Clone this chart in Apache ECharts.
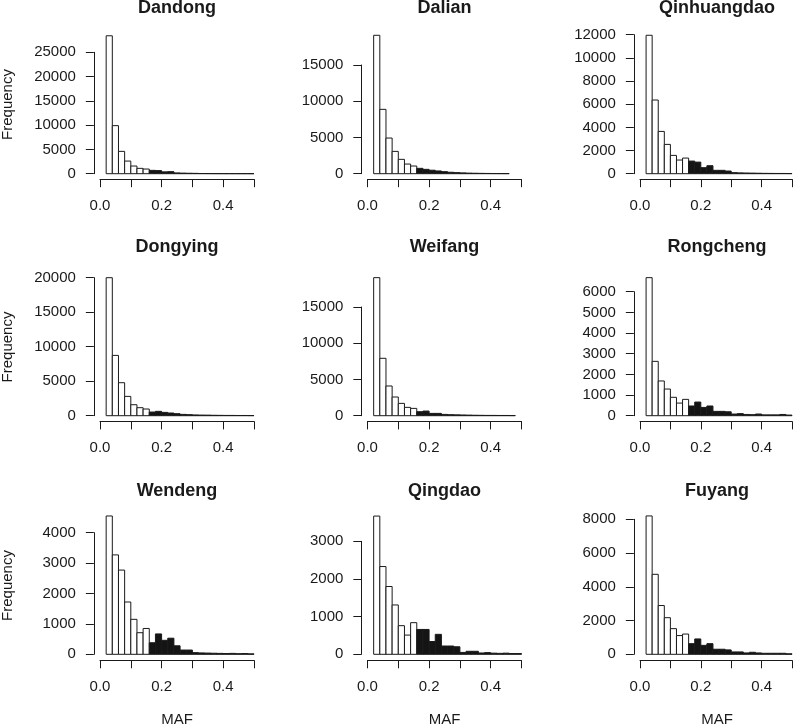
<!DOCTYPE html>
<html>
<head>
<meta charset="utf-8">
<script src="https://cdn.jsdelivr.net/npm/echarts@6/dist/echarts.min.js"></script>
<style>
  html, body { margin: 0; padding: 0; background: #fff; }
  #chart { width: 795px; height: 727px; }
</style>
</head>
<body>
<div id="chart"></div>
<script>
// ---------------- DATA ----------------
const cities = ['Dandong', 'Dalian', 'Qinhuangdao', 'Dongying', 'Weifang', 'Rongcheng', 'Wendeng', 'Qingdao', 'Fuyang'];
const binStart = 0.02;
const binWidth = 0.02;
const darkFrom = 0.16; // bins at or above this MAF are filled dark

const dandong     = [28400, 9900, 4600, 2600, 1580, 1100, 960, 690, 640, 380, 420, 160, 120, 90, 70, 40, 30, 25, 20, 15, 15, 10, 10, 8];
const dalian      = [19100, 8880, 4920, 3080, 1980, 1330, 1060, 740, 600, 480, 380, 280, 200, 150, 110, 80, 60, 45, 35, 25, 20, 15];
const qinhuangdao = [11950, 6360, 3650, 2530, 1580, 1180, 1350, 1090, 1000, 520, 690, 290, 290, 230, 90, 70, 60, 50, 40, 30, 25, 20, 20, 15];
const dongying    = [20000, 8740, 4780, 2800, 1590, 1160, 970, 530, 630, 480, 390, 290, 190, 150, 110, 90, 80, 60, 50, 40, 40, 30, 30, 20];
const weifang     = [19050, 7920, 4100, 2580, 1700, 1150, 1010, 550, 640, 320, 320, 180, 140, 120, 100, 80, 60, 50, 40, 40, 30, 30, 20];
const rongcheng   = [6680, 2630, 1680, 1290, 890, 610, 790, 470, 660, 400, 470, 210, 210, 190, 80, 100, 60, 50, 80, 40, 40, 40, 60, 30];
const wendeng     = [4550, 3270, 2770, 1720, 1150, 710, 850, 380, 670, 460, 530, 280, 140, 140, 55, 45, 40, 35, 30, 25, 30, 20, 25, 15];
const qingdao     = [3670, 2330, 1800, 1310, 760, 510, 840, 660, 660, 340, 530, 220, 220, 200, 50, 80, 80, 35, 45, 30, 25, 30, 20, 20];
const fuyang      = [8200, 4740, 2890, 2170, 1520, 1110, 1200, 630, 910, 530, 630, 300, 300, 260, 140, 140, 80, 120, 80, 60, 60, 60, 60, 30];
const counts = [dandong, dalian, qinhuangdao, dongying, weifang, rongcheng, wendeng, qingdao, fuyang];

// y-axis tick settings (max tick value, interval)
const yMaxTicks = [25000, 15000, 12000, 20000, 15000, 6000, 4000, 3000, 8000];
const yIntervals = [5000, 5000, 2000, 5000, 5000, 1000, 1000, 1000, 2000];
const xTickLabels = ['0.0', '0.2', '0.4'];
const xLabel = 'MAF';
const yLabel = 'Frequency';

// ---------------- LAYOUT ----------------
const colX0 = [100, 367.5, 640];           // pixel of MAF = 0
const pxPerUnit = 308;                      // pixels per 1.0 MAF
const rowY0 = [173.7, 415.7, 654.3];        // pixel of count = 0
const rowAxisY = [179.2, 421.4, 660.3];     // x-axis line
const yTopPx = [52.3, 65.0, 34.7, 277.7, 307.0, 291.7, 532.7, 541.3, 519.3]; // pixel of max tick
const titleY = [8, 247.5, 491.5];
const regionMid = [104.5, 347, 585.5];

const FONT = '"Liberation Sans", Arial, Helvetica, sans-serif';
const INK = '#1a1a1a';

const grids = [], xAxes = [], yAxes = [], series = [], graphics = [];

cities.forEach((name, i) => {
  const r = Math.floor(i / 3), c = i % 3;
  const x0 = colX0[c];
  const y0 = rowY0[r];
  grids.push({ left: x0, top: yTopPx[i], width: 0.5 * pxPerUnit, height: y0 - yTopPx[i], containLabel: false });
  xAxes.push({
    gridIndex: i, type: 'value', min: 0, max: 0.5, interval: 0.1,
    offset: rowAxisY[r] - y0,
    axisLine: { show: true, onZero: false, lineStyle: { color: INK, width: 1 } },
    axisTick: { show: true, inside: false, length: 8, lineStyle: { color: INK, width: 1 } },
    axisLabel: {
      show: true, margin: 19, fontSize: 15, fontFamily: FONT, color: INK,
      formatter: v => {
        const s = v.toFixed(1);
        return xTickLabels.indexOf(s) >= 0 ? s : '';
      }
    },
    splitLine: { show: false }
  });
  yAxes.push({
    gridIndex: i, type: 'value', min: 0, max: yMaxTicks[i], interval: yIntervals[i],
    offset: 0.02 * pxPerUnit,
    axisLine: { show: true, onZero: false, lineStyle: { color: INK, width: 1 } },
    axisTick: { show: true, inside: false, length: 8, lineStyle: { color: INK, width: 1 } },
    axisLabel: { show: true, margin: 18, fontSize: 15, fontFamily: FONT, color: INK, formatter: v => String(Math.round(v)) },
    splitLine: { show: false }
  });
  const data = counts[i].map((v, k) => {
    const s = +(binStart + k * binWidth).toFixed(2);
    return [s, +(s + binWidth).toFixed(2), v];
  });
  series.push({
    type: 'custom', xAxisIndex: i, yAxisIndex: i, clip: false,
    encode: { x: [0, 1], y: 2 },
    data: data,
    renderItem: (params, api) => {
      const a = api.value(0), b = api.value(1), v = api.value(2);
      const p0 = api.coord([a, v]);
      const p1 = api.coord([b, 0]);
      const dark = a >= darkFrom - 1e-9;
      return {
        type: 'rect',
        shape: { x: p0[0], y: p0[1], width: p1[0] - p0[0], height: p1[1] - p0[1] },
        style: { fill: dark ? '#141414' : '#ffffff', stroke: INK, lineWidth: 1 }
      };
    }
  });
  graphics.push({
    type: 'text', x: x0 + 0.25 * pxPerUnit, y: titleY[r],
    style: { text: name, font: 'bold 18px ' + FONT, fill: INK, textAlign: 'center', textVerticalAlign: 'middle' }
  });
  if (c === 0) {
    graphics.push({
      type: 'text', x: 8, y: regionMid[r], rotation: Math.PI / 2,
      style: { text: yLabel, font: '15px ' + FONT, fill: INK, textAlign: 'center', textVerticalAlign: 'middle' }
    });
  }
  if (r === 2) {
    graphics.push({
      type: 'text', x: x0 + 0.25 * pxPerUnit, y: 719.5,
      style: { text: xLabel, font: '15px ' + FONT, fill: INK, textAlign: 'center', textVerticalAlign: 'middle' }
    });
  }
});

const chart = echarts.init(document.getElementById('chart'), null, { renderer: 'canvas' });
chart.setOption({
  animation: false,
  backgroundColor: '#ffffff',
  grid: grids,
  xAxis: xAxes,
  yAxis: yAxes,
  series: series,
  graphic: graphics
});
</script>
</body>
</html>
